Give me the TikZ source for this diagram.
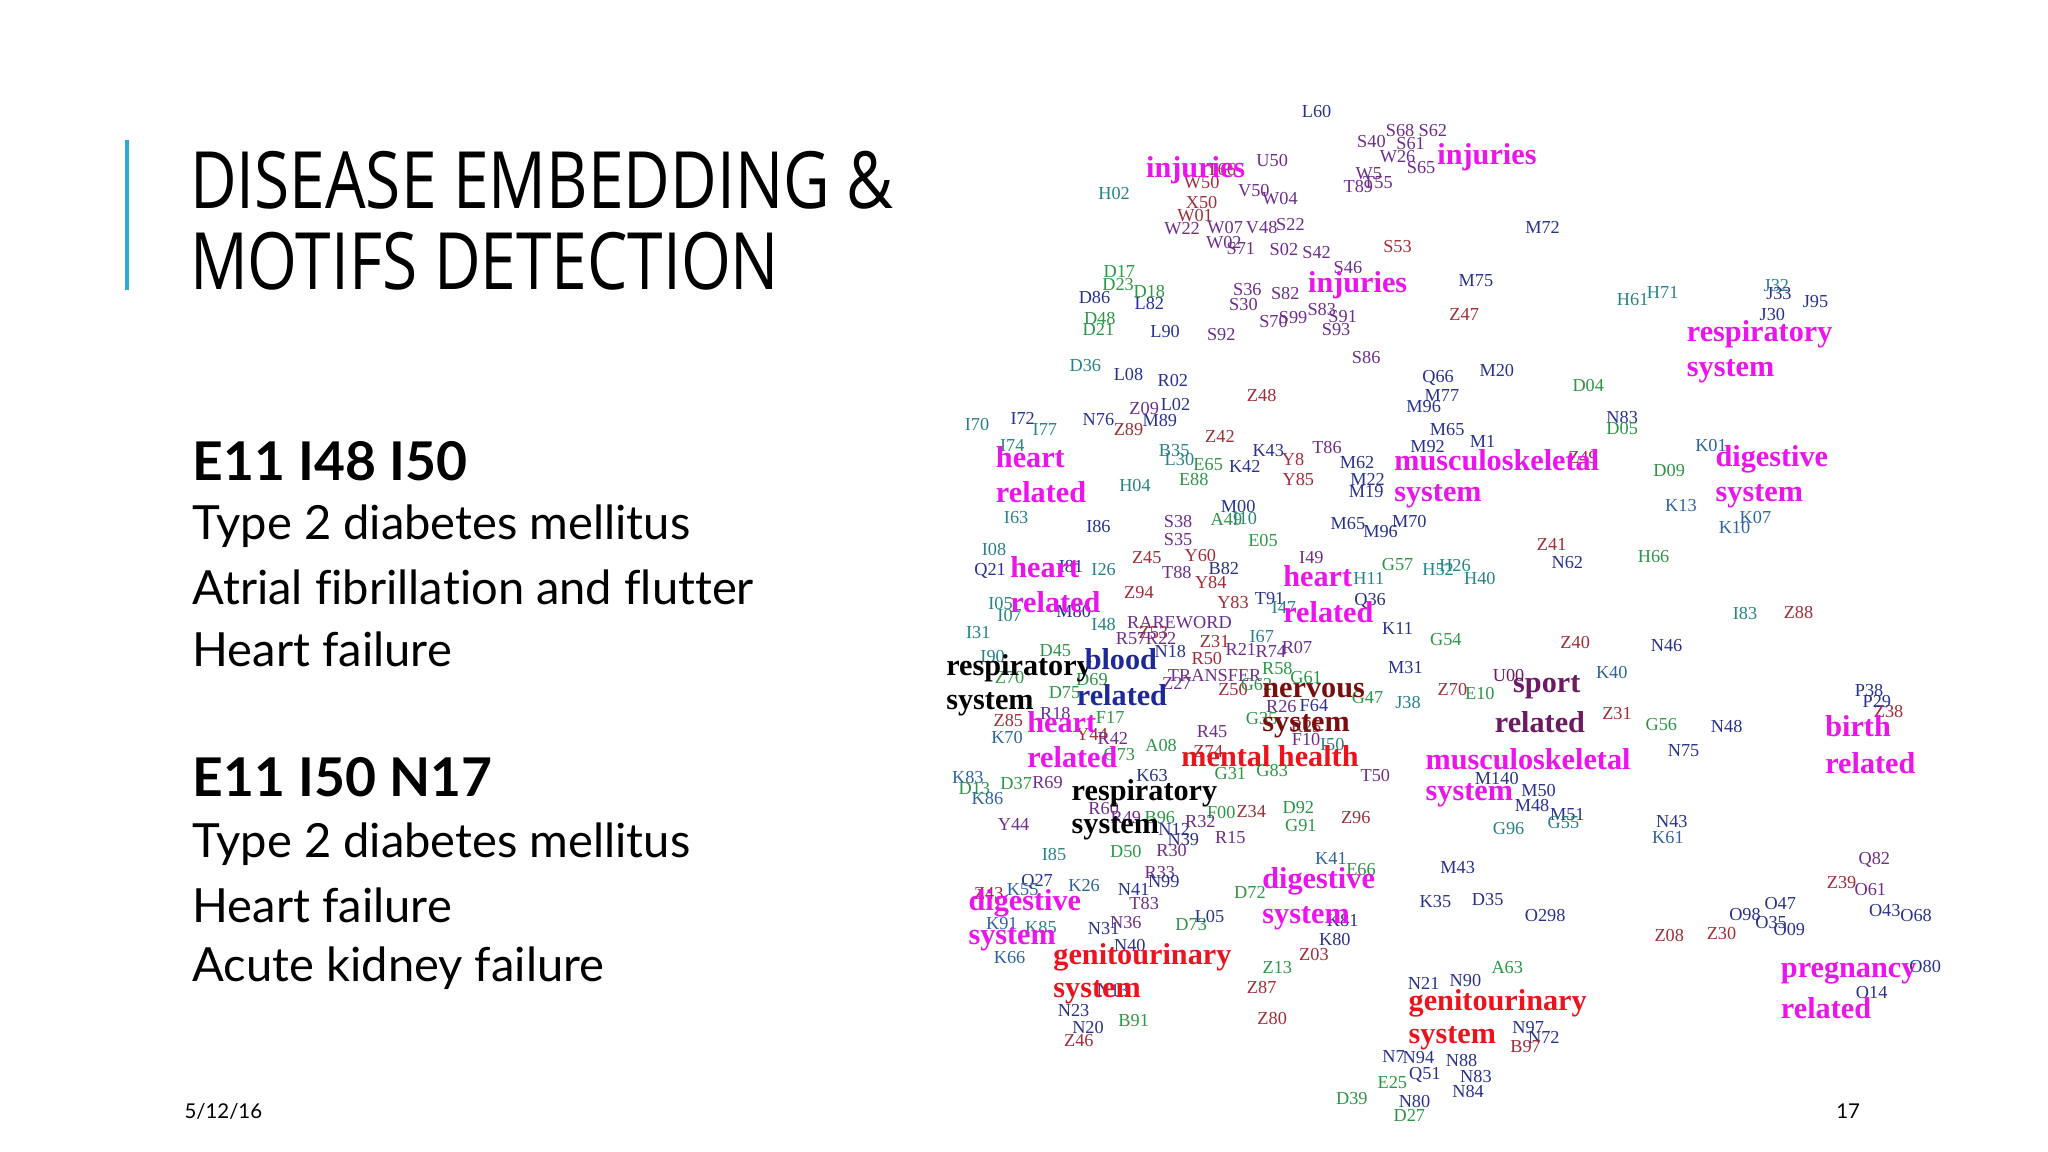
\documentclass[tikz,border=0pt]{standalone}
\usepackage{fontspec}
\setmainfont{Liberation Serif}
\newfontfamily\titlefont{Open Sans}
\newfontfamily\bodyfont[Ligatures={NoCommon}]{Lato}
\definecolor{P}{RGB}{110,45,140}
\definecolor{N}{RGB}{40,50,140}
\definecolor{T}{RGB}{40,130,135}
\definecolor{G}{RGB}{45,150,70}
\definecolor{R}{RGB}{160,45,55}
\definecolor{S}{RGB}{45,100,160}
\definecolor{MG}{RGB}{235,20,235}
\definecolor{RD}{RGB}{235,20,30}
\definecolor{DR}{RGB}{120,15,15}
\definecolor{SP}{RGB}{110,25,100}
\definecolor{BL}{RGB}{30,40,150}
\definecolor{accent}{RGB}{40,170,220}
\tikzset{
 code/.style={inner sep=0pt,font=\fontsize{5.2}{5.2}\selectfont},
 big/.style={inner sep=0pt,anchor=west,font=\fontsize{8.6}{8.6}\selectfont\bfseries},
 body/.style={inner sep=0pt,anchor=west,font=\bodyfont\fontsize{13.4}{13.4}\selectfont},
 head/.style={inner sep=0pt,anchor=west,font=\bodyfont\bfseries\fontsize{15.2}{15.2}\selectfont},
 ttl/.style={inner sep=0pt,anchor=base west,font=\titlefont\fontsize{22.5}{22.5}\selectfont},
}
\begin{document}
\begin{tikzpicture}[x=0.01306cm,y=-0.01306cm]
\useasboundingbox (0,0) rectangle (1568,882);
\fill[white] (0,0) rectangle (1568,882);
\draw[accent,line width=1.2pt] (97,107) -- (97,222);
\node[ttl] (t1) at (145,160) {\scalebox{0.81}[1]{DISEASE EMBEDDING \&}};
\node[ttl] (t2) at (145,222) {\scalebox{0.81}[1]{MOTIFS DETECTION}};
\node[head] (h1) at (147,353) {E11 I48 I50};
\node[body] (b1) at (147,403) {Type 2 diabetes mellitus};
\node[body] (b2) at (147,450) {Atrial fibrillation and flutter};
\node[body] (b3) at (147,497) {Heart failure};
\node[head] (h2) at (147,595) {E11 I50 N17};
\node[body] (b4) at (147,646) {Type 2 diabetes mellitus};
\node[body] (b5) at (147,693) {Heart failure};
\node[body] (b6) at (147,741) {Acute kidney failure};
\node[inner sep=0pt,font=\bodyfont\fontsize{5.8}{5.8}\selectfont] (d) at (171,851) {5/12/16};
\node[inner sep=0pt,font=\bodyfont\fontsize{5.8}{5.8}\selectfont] (pg) at (1415,851) {17};
\foreach \x/\y/\t/\c [count=\i] in {
1008/85/L60/N,1072/100/S68/P,1097/100/S62/P,1080/110/S61/P,1050/108/S40/P,1070/120/W26/P,1048/133/W5/P,1040/143/T89/P,1055/140/T55/P,1088/128/S65/P,
974/123/U50/P,853/148/H02/T,920/140/W50/R,935/130/T66/R,920/155/X50/R,980/152/W04/P,960/146/V50/P,915/165/W01/R,905/175/W22/P,938/174/W07/P,966/174/V48/P,988/172/S22/P,937/186/W02/P,950/190/S71/P,983/191/S02/P,1008/193/S42/P,1070/189/S53/R,1032/205/S46/P,1181/174/M72/N,
857/208/D17/G,856/218/D23/G,880/223/D18/G,838/228/D86/N,880/232/L82/N,842/244/D48/G,841/252/D21/G,892/254/L90/N,935/256/S92/P,955/222/S36/P,952/233/S30/P,975/246/S70/P,984/225/S82/P,1012/237/S83/P,1028/242/S91/P,1023/252/S93/P,990/243/S99/P,1130/215/M75/N,1121/241/Z47/R,1250/229/H61/T,1273/224/H71/T,1360/219/J32/T,1362/225/J33/N,1357/241/J30/N,1390/231/J95/N,
831/280/D36/T,864/287/L08/N,898/291/R02/N,966/303/Z48/R,1046/274/S86/P,1101/289/Q66/N,1146/284/M20/N,1104/303/M77/N,1090/311/M96/N,1216/295/D04/G,1242/320/N83/N,1242/328/D05/G,
748/325/I70/T,783/320/I72/N,800/329/I77/T,841/321/N76/N,876/313/Z09/P,900/310/L02/N,864/329/Z89/R,888/322/M89/N,934/334/Z42/R,971/345/K43/N,990/352/Y8/R,1016/343/T86/P,1108/329/M65/N,1135/338/M1/N,1093/342/M92/N,1310/341/K01/S,
775/341/I74/T,899/345/B35/T,903/352/L30/T,925/356/E65/G,953/357/K42/N,914/367/E88/G,994/367/Y85/R,1039/354/M62/N,1047/367/M22/N,1046/376/M19/N,1212/350/Z49/R,1278/360/D09/G,1287/387/K13/S,1344/396/K07/S,1328/404/K10/S,
869/372/H04/T,948/388/M00/N,939/398/A49/G,953/397/I10/T,778/396/I63/T,841/403/I86/N,902/399/S38/P,902/413/S35/P,1032/401/M65/N,1057/407/M96/N,1079/399/M70/N,
967/414/E05/G,1188/417/Z41/R,1200/431/N62/N,1266/426/H66/G,761/421/I08/T,758/437/Q21/N,820/434/I81/N,845/436/I26/T,878/427/Z45/R,919/425/Y60/R,901/438/T88/P,937/435/B82/N,1004/427/I49/P,1070/432/G57/G,1101/436/H52/T,1114/433/H26/T,1133/443/H40/T,1048/443/H11/T,1049/460/Q36/N,
766/462/I05/T,773/471/I07/T,822/468/M80/N,872/454/Z94/R,927/446/Y84/R,944/461/Y83/R,972/458/T91/N,983/465/I47/T,845/478/I48/T,883/484/Z53/R,903/477/RAREWORD/P,1070/481/K11/N,749/484/I31/T,1336/470/I83/T,1377/469/Z88/R,1107/490/G54/G,1206/492/Z40/R,1276/494/N46/N,
866/489/R57/P,889/489/R22/P,896/499/N18/N,930/491/Z31/R,950/497/R21/P,973/499/R74/P,993/496/R07/P,966/487/I67/T,808/498/D45/G,760/503/I90/T,924/504/R50/R,978/512/R58/G,1000/519/G61/G,1076/511/M31/N,1234/515/K40/S,930/517/TRANSFER/P,
836/520/D69/G,901/523/Z27/P,944/528/Z50/R,962/524/G62/G,773/519/Z70/G,1047/534/G47/G,1078/538/J38/T,1112/528/Z70/R,1133/531/E10/G,1155/517/U00/SP,981/541/R26/P,1006/540/F64/N,815/530/D75/G,
808/546/R18/P,850/549/F17/G,1000/556/R25/R,928/560/R45/P,772/552/Z85/R,1238/546/Z31/R,1272/555/G56/G,1322/556/N48/N,1431/529/P38/N,1437/537/P29/N,1446/545/Z38/R,
771/565/K70/S,836/562/Y44/R,852/565/R42/P,889/571/A08/G,925/575/Z74/R,1000/566/F10/P,966/550/G35/G,1289/575/N75/N,1020/570/I50/T,
741/595/K83/S,746/604/D13/G,756/611/K86/S,778/600/D37/G,802/599/R69/P,857/578/G73/G,882/594/K63/N,942/592/G31/G,974/590/G83/G,1053/594/T50/P,1146/596/M140/N,1178/605/M50/N,1173/617/M48/N,1200/624/M51/N,1197/630/G55/T,1155/634/G96/T,
845/619/R60/P,862/626/R49/P,888/626/B96/G,935/622/F00/G,958/621/Z34/R,994/618/D92/G,1038/626/Z96/R,996/632/G91/G,776/631/Y44/P,899/635/N12/N,919/629/R32/P,906/643/N39/N,942/641/R15/P,1280/629/N43/N,1277/641/K61/S,
807/654/I85/T,862/652/D50/G,897/651/R30/P,1019/657/K41/S,1042/666/E66/G,888/668/R33/P,891/675/N99/N,794/675/Q27/N,830/678/K26/S,783/681/K55/S,868/681/N41/N,876/692/T83/P,1116/664/M43/N,957/683/D72/G,757/684/Z43/R,
1435/658/Q82/P,1410/676/Z39/R,1432/681/O61/P,1363/692/O47/N,1336/700/O98/N,1356/706/O35/N,1370/712/O09/N,1443/697/O43/N,1467/701/O68/N,1474/740/O80/N,1433/760/O14/N,1278/716/Z08/R,1318/715/Z30/R,
767/707/K91/S,797/710/K85/T,773/733/K66/S,862/706/N36/P,845/711/N31/N,865/724/N40/N,912/708/D73/G,926/702/L05/N,1028/705/K81/N,1099/690/K35/N,1139/689/D35/N,1183/701/O298/N,1022/719/K80/N,1006/731/Z03/R,978/741/Z13/G,
1154/741/A63/G,1122/751/N90/N,1090/753/N21/N,852/758/N13/N,822/774/N23/N,833/787/N20/N,826/797/Z46/R,868/781/B91/G,966/756/Z87/R,974/780/Z80/R,1170/787/N97/N,1182/794/N72/N,1168/801/B97/R,1067/809/N7/N,1086/810/N94/N,1119/812/N88/N,1091/823/Q51/N,1130/824/N83/N,1066/829/E25/G,1124/836/N84/N,1035/841/D39/G,1083/843/N80/N,1079/854/D27/G}
 \node[code,text=\c] (c\i) at (\x,\y) {\t};
\foreach \x/\y/\t/\c [count=\i] in {
877/130/injuries/MG,1100/120/injuries/MG,1001/218/injuries/MG,1291/256/respiratory/MG,1291/284/system/MG,
762/350/heart/MG,762/377/related/MG,1067/352/musculoskeletal/MG,1067/380/system/MG,1313/352/digestive/MG,1313/380/system/MG,
773/434/heart/MG,773/461/related/MG,982/441/heart/MG,982/469/related/MG,724/512/respiratory/black,724/539/system/black,
830/505/blood/BL,824/532/related/BL,966/529/nervous/DR,966/556/system/DR,1158/526/sport/SP,1144/553/related/SP,
786/553/heart/MG,786/580/related/MG,904/579/mental health/RD,1091/581/musculoskeletal/MG,1091/609/system/MG,
820/607/respiratory/black,820/634/system/black,1397/556/birth/MG,1397/584/related/MG,
741/692/digestive/MG,741/719/system/MG,966/675/digestive/MG,966/703/system/MG,
806/733/genitourinary/RD,806/760/system/RD,1078/768/genitourinary/RD,1078/795/system/RD,1363/745/pregnancy/MG,1363/772/related/MG}
 \node[big,text=\c] (g\i) at (\x,\y) {\t};
\end{tikzpicture}
\end{document}
